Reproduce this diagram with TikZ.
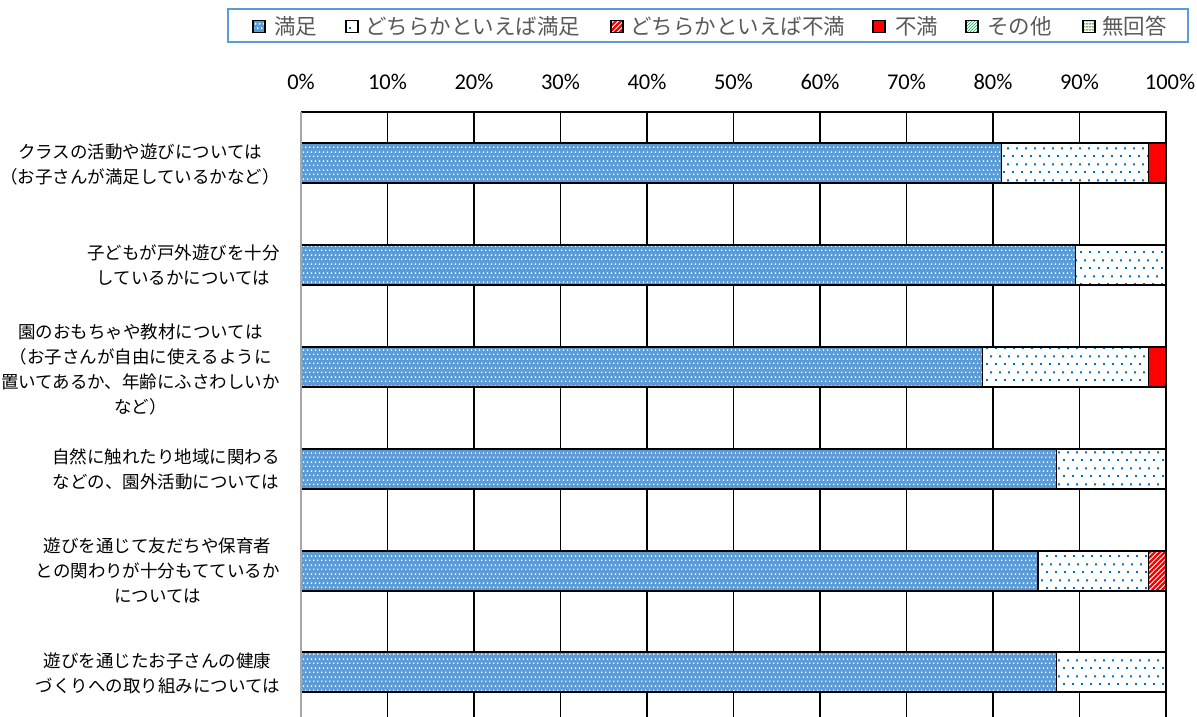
\documentclass[tikz,border=0pt]{standalone}
\usepackage{fontspec}
\setmainfont{Carlito}
\newfontfamily\jpfont{Noto Sans CJK JP}
\usetikzlibrary{patterns}
\definecolor{xbfjcu}{rgb}{0.36,0.61,0.84}
\definecolor{qqwzcc}{rgb}{0,0.44,0.75}
\definecolor{ffqqqq}{rgb}{1,0,0}
\definecolor{sqsqsq}{rgb}{0.35,0.35,0.35}
\definecolor{qqbbqq}{rgb}{0,0.69,0.31}
\definecolor{wwuuqq}{rgb}{0.31,0.5,0.19}
\definecolor{cccccc}{rgb}{0.65,0.65,0.65}
\pgfdeclarepatternformonly{densedots}{\pgfpointorigin}{\pgfqpoint{4.3pt}{8.6pt}}{\pgfqpoint{4.3pt}{8.6pt}}{%
\pgfpathrectangle{\pgfqpoint{0pt}{0pt}}{\pgfqpoint{1.5pt}{1.5pt}}%
\pgfpathrectangle{\pgfqpoint{2.15pt}{4.3pt}}{\pgfqpoint{1.5pt}{1.5pt}}%
\pgfusepath{fill}}
\pgfdeclarepatternformonly{sparsedots}{\pgfpointorigin}{\pgfqpoint{8.5pt}{16pt}}{\pgfqpoint{8.5pt}{16pt}}{%
\pgfpathrectangle{\pgfqpoint{0pt}{0pt}}{\pgfqpoint{2pt}{2pt}}%
\pgfpathrectangle{\pgfqpoint{4.25pt}{8pt}}{\pgfqpoint{2pt}{2pt}}%
\pgfusepath{fill}}
\pgfdeclarepatternformonly{thickhatch}{\pgfqpoint{-1pt}{-1pt}}{\pgfqpoint{6pt}{6pt}}{\pgfqpoint{5pt}{5pt}}{%
\pgfsetlinewidth{2.2pt}%
\pgfpathmoveto{\pgfqpoint{-1pt}{-1pt}}\pgfpathlineto{\pgfqpoint{6pt}{6pt}}%
\pgfusepath{stroke}}
\pgfdeclarepatternformonly{hstripes}{\pgfqpoint{0pt}{-1pt}}{\pgfqpoint{3pt}{2pt}}{\pgfqpoint{3pt}{3pt}}{%
\pgfsetlinewidth{1.2pt}%
\pgfpathmoveto{\pgfqpoint{0pt}{0.5pt}}\pgfpathlineto{\pgfqpoint{3pt}{0.5pt}}%
\pgfusepath{stroke}}
\begin{document}
\begin{tikzpicture}[x=1pt,y=-1pt,
sat/.style={preaction={fill=xbfjcu},pattern=densedots,pattern color=white,draw=black,line width=1.3pt},
psat/.style={preaction={fill=white},pattern=sparsedots,pattern color=qqwzcc,draw=black,line width=1.3pt},
pdis/.style={preaction={fill=white},pattern=thickhatch,pattern color=ffqqqq,draw=black,line width=1.3pt},
dis/.style={fill=ffqqqq,draw=black,line width=1.3pt},
other/.style={preaction={fill=white},pattern=north east lines,pattern color=qqbbqq,draw=black,line width=1.3pt},
nores/.style={preaction={fill=white},pattern=hstripes,pattern color=wwuuqq,draw=black,line width=1.3pt},
lgd/.style={anchor=west,inner sep=0pt,color=sqsqsq,font=\jpfont\fontsize{21.5}{24}\selectfont},
catlbl/.style={anchor=east,align=center,inner sep=0pt,font=\jpfont\fontsize{17.5}{25}\selectfont},
pct/.style={inner sep=0pt,font=\fontsize{22.5}{24}\selectfont}]
\clip(0,0) rectangle (1197,717);

% legend
\draw [color=xbfjcu,line width=1.5pt] (228,9) rectangle (1188,42);
\draw [sat,line width=1.8pt] (253,20.5) rectangle (265,32.5);
\draw (274,26.5) node[lgd] (l1) {満足};
\draw [psat,line width=1.8pt] (346,20.5) rectangle (358,32.5);
\draw (365,26.5) node[lgd] (l2) {どちらかといえば満足};
\draw [pdis,line width=1.8pt] (611,20.5) rectangle (623,32.5);
\draw (630,26.5) node[lgd] (l3) {どちらかといえば不満};
\draw [dis,line width=1.8pt] (873,20.5) rectangle (885,32.5);
\draw (895,26.5) node[lgd] (l4) {不満};
\draw [other,line width=1.8pt] (966,20.5) rectangle (978,32.5);
\draw (987,26.5) node[lgd] (l5) {その他};
\draw [nores,line width=1.8pt] (1083,20.5) rectangle (1095,32.5);
\draw (1102,26.5) node[lgd] (l6) {無回答};

% axis labels
\draw (301,82) node[pct] (p0) {0\%};
\draw (387.5,82) node[pct] (p10) {10\%};
\draw (474,82) node[pct] (p20) {20\%};
\draw (560.5,82) node[pct] (p30) {30\%};
\draw (647,82) node[pct] (p40) {40\%};
\draw (733.5,82) node[pct] (p50) {50\%};
\draw (820,82) node[pct] (p60) {60\%};
\draw (906.5,82) node[pct] (p70) {70\%};
\draw (993,82) node[pct] (p80) {80\%};
\draw (1079.5,82) node[pct] (p90) {90\%};
\draw (1170,82) node[pct] (p100) {100\%};

% grid
\draw [line width=1.3pt] (387.5,112)-- (387.5,717);
\draw [line width=1.3pt] (474,112)-- (474,717);
\draw [line width=1.3pt] (560.5,112)-- (560.5,717);
\draw [line width=1.3pt] (647,112)-- (647,717);
\draw [line width=1.3pt] (733.5,112)-- (733.5,717);
\draw [line width=1.3pt] (820,112)-- (820,717);
\draw [line width=1.3pt] (906.5,112)-- (906.5,717);
\draw [line width=1.3pt] (993,112)-- (993,717);
\draw [line width=1.3pt] (1079.5,112)-- (1079.5,717);
\draw [line width=2pt] (301,112)-- (1166,112);
\draw [line width=2.6pt] (1166,111)-- (1166,717);

% bars
\draw [sat] (301,143) rectangle (1001.7,183);
\draw [psat] (1001.7,143) rectangle (1148.7,183);
\draw [dis] (1148.7,143) rectangle (1166,183);
\draw [sat] (301,245) rectangle (1075.2,285);
\draw [psat] (1075.2,245) rectangle (1166,285);
\draw [sat] (301,347) rectangle (982.6,387);
\draw [psat] (982.6,347) rectangle (1148.7,387);
\draw [dis] (1148.7,347) rectangle (1166,387);
\draw [sat] (301,449) rectangle (1056.7,489);
\draw [psat] (1056.7,449) rectangle (1166,489);
\draw [sat] (301,551) rectangle (1038,591);
\draw [psat] (1038,551) rectangle (1148.7,591);
\draw [pdis] (1148.7,551) rectangle (1166,591);
\draw [sat] (301,652) rectangle (1056.7,692);
\draw [psat] (1056.7,652) rectangle (1166,692);
\draw [color=cccccc,line width=2.6pt] (301,112)-- (301,717);

% categories
\draw (280,164) node[catlbl] (c1) {クラスの活動や遊びについては\\（お子さんが満足しているかなど）};
\draw (280,265) node[catlbl] (c2) {子どもが戸外遊びを十分\\しているかについては};
\draw (280,369) node[catlbl] (c3) {園のおもちゃや教材については\\（お子さんが自由に使えるように\\置いてあるか、年齢にふさわしいか\\など）};
\draw (280,469) node[catlbl] (c4) {自然に触れたり地域に関わる\\などの、園外活動については};
\draw (280,570) node[catlbl] (c5) {遊びを通じて友だちや保育者\\との関わりが十分もてているか\\については};
\draw (280,673) node[catlbl] (c6) {遊びを通じたお子さんの健康\\づくりへの取り組みについては};
\end{tikzpicture}
\end{document}
